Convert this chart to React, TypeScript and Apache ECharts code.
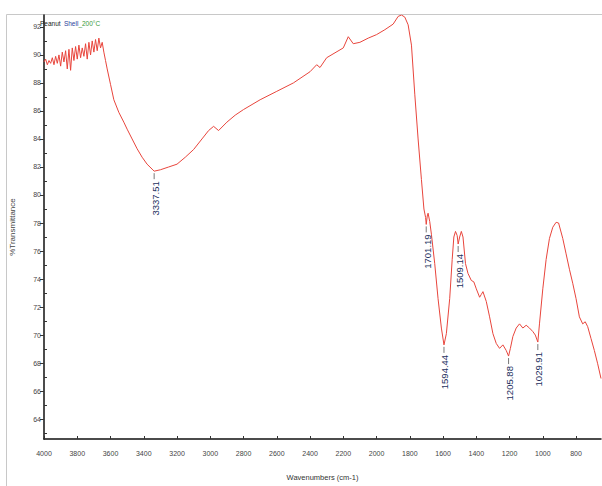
import React, { useEffect, useRef } from "react";
import * as echarts from "echarts";

const wavenumbers: number[] = [
  4000, 3990, 3980, 3970, 3960, 3950, 3940, 3930, 3920, 3910, 3900, 3890, 3880, 3870, 3860, 3850, 3840, 3830, 3820, 3810,
  3800, 3790, 3780, 3770, 3760, 3750, 3740, 3730, 3720, 3710, 3700, 3690, 3680, 3670, 3660, 3650, 3640, 3630, 3620, 3600,
  3580, 3550, 3520, 3500, 3470, 3440, 3410, 3380, 3350, 3337.51, 3300, 3250, 3200, 3150, 3100, 3050, 3010, 2980, 2950, 2900,
  2850, 2800, 2700, 2600, 2500, 2400, 2360, 2340, 2300, 2200, 2170, 2140, 2100, 2050, 2000, 1950, 1900, 1870, 1850, 1830,
  1810, 1790, 1770, 1750, 1730, 1715, 1705, 1701.19, 1695, 1690, 1680, 1670, 1650, 1630, 1610, 1594.44, 1580, 1560, 1545, 1535,
  1525, 1515, 1509.14, 1500, 1490, 1480, 1465, 1450, 1430, 1415, 1400, 1380, 1370, 1360, 1340, 1320, 1300, 1280, 1260, 1240,
  1220, 1205.88, 1195, 1180, 1160, 1140, 1120, 1100, 1080, 1060, 1045, 1029.91, 1020, 1000, 980, 960, 940, 920, 905, 880,
  860, 840, 820, 800, 780, 760, 745, 730, 710, 690, 670, 650,
];

const transmittance: number[] = [
  89.5, 89.7, 89.3, 89.6, 89.4, 89.8, 89.3, 89.9, 89.4, 90.0, 89.2, 90.2, 89.5, 90.3, 89.0, 90.4, 88.9, 90.5, 89.6, 90.6,
  89.7, 90.7, 89.8, 90.5, 89.9, 90.8, 89.7, 90.9, 90.0, 91.0, 90.2, 91.1, 90.3, 91.2, 90.5, 90.9, 90.2, 89.6, 89.0, 87.9,
  86.8, 85.9, 85.2, 84.7, 84.0, 83.3, 82.7, 82.2, 81.85, 81.7, 81.8, 82.0, 82.2, 82.7, 83.25, 84.0, 84.6, 84.9, 84.6, 85.2,
  85.7, 86.1, 86.8, 87.4, 88.0, 88.8, 89.3, 89.1, 89.8, 90.5, 91.3, 90.8, 90.9, 91.2, 91.45, 91.8, 92.2, 92.75, 92.85, 92.7,
  92.15, 90.7, 87.2, 84.0, 81.1, 79.0, 78.4, 77.9, 78.5, 78.7, 78.1, 77.2, 75.1, 72.6, 70.5, 69.3, 70.1, 72.6, 75.4, 77.0,
  77.4, 77.1, 76.5, 77.0, 77.4, 77.0, 75.1, 74.4, 73.9, 73.8, 73.3, 72.7, 72.9, 73.1, 72.4, 71.3, 70.1, 69.4, 69.05, 69.3,
  68.9, 68.5, 69.05, 69.9, 70.5, 70.8, 70.5, 70.7, 70.5, 70.25, 70.0, 69.5, 70.8, 73.3, 75.4, 76.9, 77.7, 78.05, 78.0, 76.9,
  75.8, 74.7, 73.7, 72.6, 71.3, 70.8, 70.95, 70.6, 69.75, 68.9, 67.95, 66.9,
];

const peakWavenumbers: number[] = [3337.51, 1701.19, 1594.44, 1509.14, 1205.88, 1029.91];
const peakTransmittance: number[] = [81.7, 77.9, 69.3, 76.5, 68.5, 69.5];
const peakLabels: string[] = ["3337.51", "1701.19", "1594.44", "1509.14", "1205.88", "1029.91"];

const xTickLabels: number[] = [4000, 3800, 3600, 3400, 3200, 3000, 2800, 2600, 2400, 2200, 2000, 1800, 1600, 1400, 1200, 1000, 800];
const yTickLabels: number[] = [64, 66, 68, 70, 72, 74, 76, 78, 80, 82, 84, 86, 88, 90, 92];
const yMinorTicks: number[] = [63, 65, 67, 69, 71, 73, 75, 77, 79, 81, 83, 85, 87, 89, 91];

const sampleTitle = ["Peanut", "Shell", "_200°C"];

export default function App() {
  const ref = useRef<HTMLDivElement>(null);
  useEffect(() => {
    if (!ref.current) return;
    const chart = echarts.init(ref.current, undefined, { renderer: "svg" });
    const narrow = "'Liberation Sans Narrow', 'Liberation Sans', Arial, sans-serif";
    const option: any = {
      animation: false,
      backgroundColor: "#ffffff",
      grid: { left: 39, top: 15, width: 562, height: 426, containLabel: false },
      xAxis: [
        {
          type: "value",
          inverse: true,
          min: 650,
          max: 4000,
          name: "Wavenumbers (cm-1)",
          nameLocation: "middle",
          nameGap: 34,
          nameTextStyle: { fontSize: 7.5, color: "#333", fontFamily: narrow },
          axisLine: { show: true, onZero: false, lineStyle: { color: "#111", width: 1.5 } },
          axisTick: { show: true, inside: true, length: 3, customValues: xTickLabels, lineStyle: { color: "#333" } },
          axisLabel: {
            customValues: xTickLabels,
            formatter: (v: number) => String(v),
            fontSize: 7,
            color: "#444",
            margin: 11,
            fontFamily: narrow,
          },
          splitLine: { show: false },
        },
      ],
      yAxis: [
        {
          type: "value",
          min: 62.58,
          max: 92.85,
          name: "%Transmittance",
          nameLocation: "middle",
          nameGap: 28,
          nameRotate: 90,
          nameTextStyle: { fontSize: 8, color: "#444", fontFamily: narrow },
          axisLine: { show: true, onZero: false, lineStyle: { color: "#111", width: 1.5 } },
          axisTick: { show: true, length: 4, customValues: yTickLabels, lineStyle: { color: "#333" } },
          axisLabel: {
            customValues: yTickLabels,
            formatter: (v: number) => String(v),
            fontSize: 7,
            color: "#444",
            margin: 3,
            fontFamily: narrow,
          },
          splitLine: { show: false },
        },
        {
          type: "value",
          min: 62.58,
          max: 92.85,
          position: "left",
          axisLine: { show: false },
          axisTick: { show: true, inside: true, length: 3, customValues: yMinorTicks, lineStyle: { color: "#333" } },
          axisLabel: { show: false },
          splitLine: { show: false },
        },
      ],
      graphic: [
        {
          type: "rect",
          silent: true,
          shape: { x: 6.5, y: 14.5, width: 700, height: 600 },
          style: { fill: "none", stroke: "#c8c8c8", lineWidth: 1 },
          z: -10,
        },
        {
          type: "text",
          left: 40,
          top: 17,
          style: {
            text: `{a|${sampleTitle[0]}} {b|${sampleTitle[1]}}{c|${sampleTitle[2]}}`,
            rich: {
              a: { fontSize: 6.5, fill: "#222", fontFamily: narrow },
              b: { fontSize: 6.5, fill: "#2a3f9a", fontFamily: narrow },
              c: { fontSize: 6.5, fill: "#3a9a3a", fontFamily: narrow },
            },
          },
        },
      ],
      series: [
        {
          type: "line",
          data: wavenumbers.map((w, i) => [w, transmittance[i]]),
          showSymbol: false,
          symbol: "none",
          lineStyle: { color: "#e8453c", width: 1 },
          z: 3,
        },
        {
          type: "custom",
          data: peakWavenumbers.map((w, i) => [w, peakTransmittance[i]]),
          encode: { x: 0, y: 1 },
          z: 4,
          renderItem: (params: any, api: any) => {
            const pt = api.coord([api.value(0), api.value(1)]);
            return {
              type: "group",
              children: [
                {
                  type: "line",
                  shape: { x1: pt[0], y1: pt[1] + 2, x2: pt[0], y2: pt[1] + 8 },
                  style: { stroke: "#555", lineWidth: 0.8 },
                },
                {
                  type: "text",
                  x: pt[0] + 1,
                  y: pt[1] + 10,
                  rotation: Math.PI / 2,
                  style: {
                    text: peakLabels[params.dataIndex],
                    fill: "#24305e",
                    fontSize: 9.5,
                    fontFamily: "'Liberation Sans', Arial, sans-serif",
                    align: "right",
                    verticalAlign: "middle",
                  },
                },
              ],
            };
          },
        },
      ],
    };
    chart.setOption(option);
    return () => chart.dispose();
  }, []);
  return (
    <div
      ref={ref}
      style={{ position: "fixed", left: 0, top: 0, width: 602, height: 486, background: "#fff" }}
    />
  );
}
